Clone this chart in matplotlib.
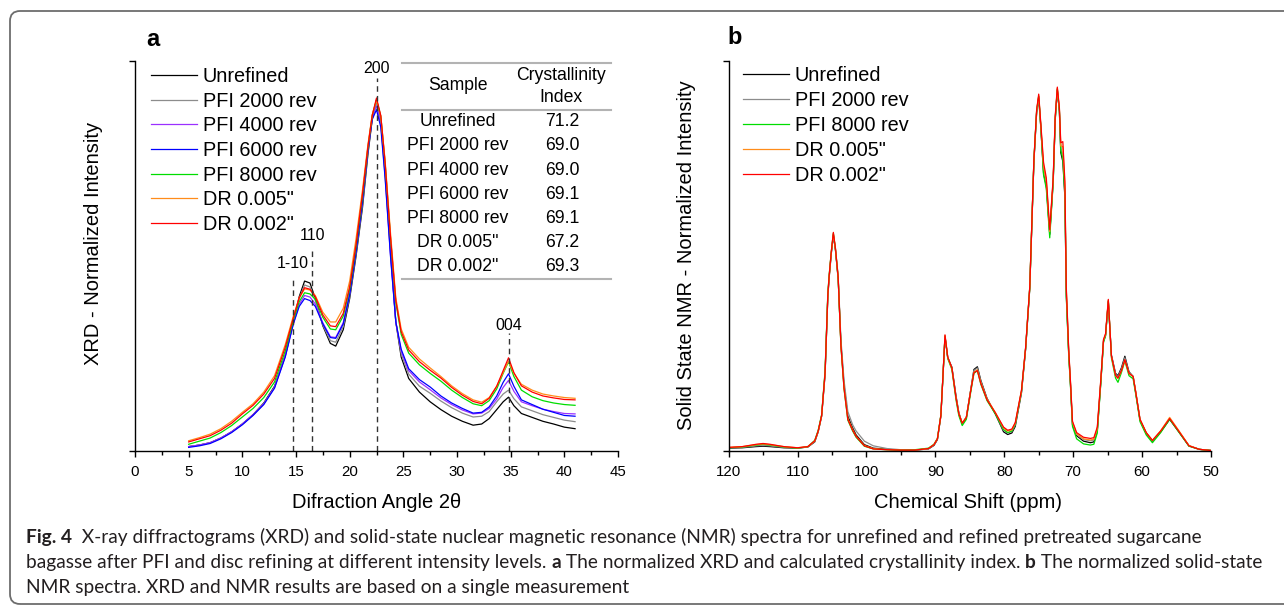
import matplotlib
matplotlib.use('Agg')
import matplotlib.pyplot as plt
from matplotlib.lines import Line2D
from matplotlib.patches import FancyBboxPatch
from matplotlib.transforms import IdentityTransform

plt.rcParams['font.family'] = ['Liberation Sans', 'DejaVu Sans']

# ---- panel a: XRD ----
theta = [5, 6, 7, 8, 9, 10, 11, 12, 13, 14, 14.75, 15.3, 15.8, 16.3, 16.8, 17.5, 18.2, 18.7, 19.4,
         20, 20.6, 21.2, 21.7, 22.1, 22.5, 22.9, 23.3, 23.8, 24.3, 24.8, 25.5, 26.5, 27.5, 28.5,
         29.5, 30.5, 31.5, 32.3, 33, 33.7, 34.3, 34.8, 35.3, 36, 37, 38, 39, 40, 41]

xrd_unrefined = [0.010, 0.014, 0.020, 0.032, 0.048, 0.068, 0.092, 0.122, 0.165, 0.245,
                 0.330, 0.395, 0.435, 0.430, 0.390, 0.320, 0.275, 0.268, 0.310,
                 0.390, 0.500, 0.625, 0.760, 0.850, 0.900, 0.850, 0.720, 0.520, 0.330, 0.240,
                 0.185, 0.150, 0.125, 0.105, 0.088, 0.075, 0.065, 0.068, 0.082, 0.105,
                 0.125, 0.137, 0.115, 0.095, 0.085, 0.075, 0.068, 0.060, 0.056]
xrd_pfi2000 = [0.010, 0.014, 0.020, 0.032, 0.048, 0.068, 0.091, 0.120, 0.163, 0.244,
               0.328, 0.390, 0.425, 0.420, 0.385, 0.322, 0.282, 0.278, 0.318,
               0.395, 0.505, 0.632, 0.765, 0.852, 0.895, 0.845, 0.712, 0.510, 0.330, 0.248,
               0.196, 0.165, 0.147, 0.127, 0.110, 0.096, 0.086, 0.088, 0.100, 0.125,
               0.145, 0.155, 0.133, 0.112, 0.102, 0.092, 0.085, 0.078, 0.074]
xrd_pfi4000 = [0.010, 0.014, 0.020, 0.032, 0.048, 0.068, 0.092, 0.120, 0.162, 0.242,
               0.325, 0.375, 0.398, 0.394, 0.376, 0.328, 0.292, 0.290, 0.328,
               0.405, 0.515, 0.645, 0.772, 0.855, 0.885, 0.838, 0.705, 0.505, 0.330, 0.255,
               0.205, 0.176, 0.156, 0.135, 0.118, 0.104, 0.094, 0.096, 0.108, 0.132,
               0.162, 0.180, 0.152, 0.125, 0.115, 0.106, 0.100, 0.095, 0.094]
xrd_pfi6000 = [0.008, 0.012, 0.018, 0.030, 0.046, 0.066, 0.090, 0.118, 0.160, 0.240,
               0.325, 0.370, 0.390, 0.385, 0.370, 0.325, 0.290, 0.288, 0.325,
               0.400, 0.510, 0.640, 0.770, 0.850, 0.875, 0.830, 0.700, 0.500, 0.330, 0.260,
               0.210, 0.182, 0.163, 0.140, 0.122, 0.108, 0.096, 0.098, 0.112, 0.140,
               0.175, 0.197, 0.165, 0.130, 0.118, 0.106, 0.098, 0.090, 0.088]
xrd_pfi8000 = [0.016, 0.024, 0.032, 0.046, 0.064, 0.086, 0.108, 0.136, 0.176, 0.256,
               0.335, 0.382, 0.405, 0.402, 0.388, 0.342, 0.312, 0.310, 0.345,
               0.415, 0.525, 0.655, 0.778, 0.860, 0.900, 0.858, 0.738, 0.548, 0.380, 0.298,
               0.250, 0.220, 0.198, 0.178, 0.155, 0.136, 0.120, 0.115, 0.128, 0.158,
               0.198, 0.228, 0.190, 0.155, 0.138, 0.128, 0.122, 0.118, 0.116]
xrd_dr005 = [0.025, 0.033, 0.042, 0.056, 0.075, 0.098, 0.120, 0.150, 0.192, 0.272,
             0.345, 0.392, 0.415, 0.412, 0.398, 0.355, 0.330, 0.330, 0.365,
             0.435, 0.545, 0.670, 0.785, 0.862, 0.900, 0.858, 0.745, 0.560, 0.392, 0.312,
             0.265, 0.235, 0.212, 0.190, 0.166, 0.146, 0.130, 0.124, 0.136, 0.165,
             0.200, 0.230, 0.198, 0.170, 0.155, 0.145, 0.140, 0.136, 0.134]
xrd_dr002 = [0.022, 0.030, 0.038, 0.052, 0.070, 0.094, 0.116, 0.145, 0.185, 0.265,
             0.340, 0.392, 0.418, 0.414, 0.395, 0.348, 0.320, 0.318, 0.352,
             0.420, 0.530, 0.660, 0.780, 0.860, 0.905, 0.860, 0.740, 0.550, 0.385, 0.305,
             0.258, 0.228, 0.206, 0.186, 0.162, 0.142, 0.126, 0.120, 0.134, 0.165,
             0.205, 0.238, 0.200, 0.166, 0.150, 0.140, 0.135, 0.131, 0.130]

xrd_labels = ['Unrefined', 'PFI 2000 rev', 'PFI 4000 rev', 'PFI 6000 rev',
              'PFI 8000 rev', 'DR 0.005"', 'DR 0.002"']
xrd_colors = ['#000000', '#8c8c8c', '#9b30ff', '#0000ff', '#00dd00', '#ff8c1a', '#ff0000']
xrd_series = [xrd_unrefined, xrd_pfi2000, xrd_pfi4000, xrd_pfi6000,
              xrd_pfi8000, xrd_dr005, xrd_dr002]

peak_pos = [14.7, 16.5, 22.5, 34.8]
peak_names = ['1-10', '110', '200', '004']
peak_line_top = [0.44, 0.52, 0.956, 0.302]
peak_text_y = [0.481, 0.553, 0.98, 0.322]

table_samples = ['Unrefined', 'PFI 2000 rev', 'PFI 4000 rev', 'PFI 6000 rev',
                 'PFI 8000 rev', 'DR 0.005"', 'DR 0.002"']
table_ci = ['71.2', '69.0', '69.0', '69.1', '69.1', '67.2', '69.3']

# ---- panel b: NMR ----
ppm = [120, 118, 116, 115, 114, 112, 110, 108.5, 107.5, 107,
       106.5, 106, 105.6, 105.4, 105.1, 104.8, 104.5, 104.1, 103.7, 103.25,
       102.7, 102, 101.5, 100.3, 99, 97, 95, 93, 91, 90.2,
       89.7, 89.2, 88.9, 88.6, 88.2, 87.6, 87.0, 86.6, 86.1, 85.5,
       84.9, 84.4, 83.9, 83.4, 82.5, 81.3, 80.1, 79.5, 78.9, 78.4,
       77.5, 76.9, 76.3, 75.7, 75.3, 75.0, 74.7, 74.3, 73.9, 73.4,
       72.9, 72.6, 72.3, 72.0, 71.8, 71.5, 71.2, 71.0, 70.65, 70.4,
       70.1, 69.5, 68.5, 67.5, 67.0, 66.5, 66.0, 65.6, 65.3, 64.9,
       64.45, 63.85, 63.5, 63.0, 62.5, 61.9, 61.3, 60.9, 60.3, 59.4,
       58.5, 57.3, 56.0, 54.7, 53.2, 51.7, 50]

nmr_unrefined = [0.006, 0.007, 0.010, 0.011, 0.010, 0.007, 0.006, 0.009, 0.022, 0.048,
                 0.088, 0.195, 0.395, 0.445, 0.505, 0.552, 0.515, 0.440, 0.275, 0.168,
                 0.088, 0.058, 0.040, 0.015, 0.006, 0.003, 0.001, 0.001, 0.004, 0.013,
                 0.028, 0.088, 0.188, 0.292, 0.238, 0.214, 0.140, 0.098, 0.068, 0.085,
                 0.152, 0.208, 0.215, 0.180, 0.134, 0.094, 0.048, 0.041, 0.045, 0.062,
                 0.148, 0.260, 0.415, 0.740, 0.868, 0.905, 0.830, 0.712, 0.680, 0.555,
                 0.690, 0.850, 0.925, 0.870, 0.765, 0.742, 0.650, 0.400, 0.250, 0.172,
                 0.066, 0.038, 0.024, 0.020, 0.022, 0.050, 0.172, 0.280, 0.296, 0.382,
                 0.245, 0.198, 0.192, 0.212, 0.242, 0.202, 0.190, 0.146, 0.078, 0.044,
                 0.024, 0.048, 0.080, 0.049, 0.012, 0.003, 0.000]
nmr_pfi2000 = [0.007, 0.008, 0.012, 0.013, 0.012, 0.008, 0.006, 0.009, 0.023, 0.049,
               0.089, 0.198, 0.398, 0.448, 0.508, 0.555, 0.518, 0.448, 0.285, 0.180,
               0.100, 0.066, 0.050, 0.024, 0.012, 0.005, 0.002, 0.001, 0.004, 0.014,
               0.029, 0.089, 0.189, 0.294, 0.239, 0.213, 0.138, 0.097, 0.069, 0.085,
               0.151, 0.205, 0.212, 0.178, 0.132, 0.095, 0.052, 0.045, 0.049, 0.066,
               0.150, 0.262, 0.418, 0.742, 0.870, 0.908, 0.834, 0.720, 0.688, 0.558,
               0.694, 0.854, 0.928, 0.874, 0.775, 0.760, 0.665, 0.408, 0.254, 0.175,
               0.070, 0.041, 0.028, 0.025, 0.027, 0.054, 0.175, 0.282, 0.297, 0.384,
               0.244, 0.196, 0.189, 0.209, 0.238, 0.200, 0.190, 0.147, 0.079, 0.045,
               0.025, 0.049, 0.081, 0.049, 0.012, 0.003, 0.000]
nmr_pfi8000 = [0.007, 0.009, 0.014, 0.016, 0.014, 0.009, 0.006, 0.010, 0.026, 0.052,
               0.092, 0.205, 0.405, 0.452, 0.510, 0.558, 0.518, 0.442, 0.268, 0.158,
               0.078, 0.050, 0.034, 0.011, 0.004, 0.002, 0.001, 0.002, 0.006, 0.016,
               0.031, 0.091, 0.190, 0.293, 0.236, 0.208, 0.130, 0.090, 0.064, 0.080,
               0.146, 0.198, 0.205, 0.170, 0.128, 0.094, 0.054, 0.046, 0.050, 0.068,
               0.152, 0.262, 0.418, 0.745, 0.872, 0.910, 0.832, 0.708, 0.672, 0.546,
               0.688, 0.852, 0.928, 0.872, 0.770, 0.750, 0.655, 0.395, 0.245, 0.168,
               0.062, 0.030, 0.017, 0.014, 0.016, 0.045, 0.170, 0.278, 0.294, 0.384,
               0.238, 0.186, 0.175, 0.200, 0.230, 0.192, 0.184, 0.142, 0.074, 0.040,
               0.020, 0.046, 0.080, 0.048, 0.011, 0.003, 0.000]
nmr_dr005 = [0.008, 0.010, 0.015, 0.017, 0.015, 0.010, 0.007, 0.010, 0.024, 0.049,
             0.089, 0.198, 0.398, 0.448, 0.508, 0.556, 0.518, 0.443, 0.270, 0.162,
             0.082, 0.054, 0.037, 0.013, 0.005, 0.002, 0.001, 0.001, 0.005, 0.015,
             0.030, 0.089, 0.189, 0.295, 0.239, 0.211, 0.136, 0.096, 0.071, 0.086,
             0.151, 0.201, 0.207, 0.174, 0.132, 0.098, 0.058, 0.050, 0.053, 0.070,
             0.153, 0.263, 0.418, 0.744, 0.872, 0.910, 0.836, 0.730, 0.692, 0.562,
             0.696, 0.856, 0.930, 0.876, 0.782, 0.780, 0.680, 0.414, 0.256, 0.178,
             0.073, 0.043, 0.030, 0.027, 0.029, 0.056, 0.177, 0.283, 0.298, 0.386,
             0.242, 0.192, 0.185, 0.204, 0.232, 0.198, 0.190, 0.148, 0.080, 0.046,
             0.026, 0.051, 0.085, 0.052, 0.013, 0.003, 0.000]
nmr_dr002 = [0.008, 0.010, 0.016, 0.018, 0.016, 0.010, 0.007, 0.010, 0.025, 0.050,
             0.090, 0.200, 0.400, 0.450, 0.510, 0.560, 0.520, 0.445, 0.270, 0.160,
             0.080, 0.052, 0.036, 0.012, 0.004, 0.002, 0.001, 0.001, 0.005, 0.015,
             0.030, 0.090, 0.190, 0.297, 0.240, 0.212, 0.135, 0.095, 0.070, 0.085,
             0.150, 0.200, 0.205, 0.172, 0.130, 0.097, 0.060, 0.052, 0.055, 0.072,
             0.155, 0.265, 0.420, 0.746, 0.875, 0.915, 0.840, 0.740, 0.700, 0.567,
             0.700, 0.860, 0.933, 0.880, 0.790, 0.793, 0.690, 0.420, 0.260, 0.180,
             0.075, 0.046, 0.034, 0.031, 0.033, 0.060, 0.180, 0.285, 0.300, 0.388,
             0.243, 0.193, 0.186, 0.205, 0.233, 0.198, 0.190, 0.148, 0.080, 0.046,
             0.026, 0.050, 0.082, 0.050, 0.012, 0.003, 0.000]

nmr_labels = ['Unrefined', 'PFI 2000 rev', 'PFI 8000 rev', 'DR 0.005"', 'DR 0.002"']
nmr_colors = ['#000000', '#8c8c8c', '#00dd00', '#ff8c1a', '#ff0000']
nmr_series = [nmr_unrefined, nmr_pfi2000, nmr_pfi8000, nmr_dr005, nmr_dr002]

caption_lines = [
    [('Fig. 4', 'bold'), ('  X-ray diffractograms (XRD) and solid-state nuclear magnetic resonance '
                          '(NMR) spectra for unrefined and refined pretreated sugarcane', 'normal')],
    [('bagasse after PFI and disc refining at different intensity levels. ', 'normal'), ('a', 'bold'),
     (' The normalized XRD and calculated crystallinity index. ', 'normal'), ('b', 'bold'),
     (' The normalized solid-state', 'normal')],
    [('NMR spectra. XRD and NMR results are based on a single measurement', 'normal')],
]

W, H = 1284, 605


def fx(px):
    return px / W


def fy(py):
    return 1 - py / H


def style_axes(ax):
    for s in ['top', 'right']:
        ax.spines[s].set_visible(False)
    for s in ['left', 'bottom']:
        ax.spines[s].set_linewidth(1.0)
    ax.set_ylim(0, 1)
    ax.set_yticks([0, 1])
    ax.set_yticklabels([])
    ax.tick_params(axis='y', direction='out', length=4.5, width=1.0)
    ax.tick_params(axis='x', which='major', direction='out', length=4.5, width=1.0,
                   labelsize=10.8, pad=6)
    ax.tick_params(axis='x', which='minor', direction='out', length=2.6, width=1.0)


fig = plt.figure(figsize=(W / 100, H / 100), dpi=100)

# panel a
ax_a = fig.add_axes([fx(135), fy(450.5), (618 - 135) / W, (450.5 - 61) / H])
for ys, c, lab in zip(xrd_series, xrd_colors, xrd_labels):
    ax_a.plot(theta, ys, color=c, lw=0.9, label=lab)
for xp, top, name, ty in zip(peak_pos, peak_line_top, peak_names, peak_text_y):
    ax_a.plot([xp, xp], [0, top], color='#333333', lw=1.0, ls=(0, (4, 3)))
    ax_a.text(xp, ty, name, ha='center', va='center', fontsize=11.5)
ax_a.set_xlim(0, 45)
ax_a.set_xticks(range(0, 46, 5))
ax_a.set_xticks([x + 2.5 for x in range(0, 45, 5)], minor=True)
style_axes(ax_a)
ax_a.legend(loc='upper left', bbox_to_anchor=(fx(151), fy(67)), bbox_transform=fig.transFigure,
            frameon=False, fontsize=14.3, handlelength=2.3, handletextpad=0.3,
            labelspacing=0.285, borderpad=0, borderaxespad=0)

# panel b
ax_b = fig.add_axes([fx(728.6), fy(450.5), (1211 - 728.6) / W, (450.5 - 61) / H])
for ys, c, lab in zip(nmr_series, nmr_colors, nmr_labels):
    ax_b.plot(ppm, ys, color=c, lw=0.9, label=lab)
ax_b.set_xlim(120, 50)
ax_b.set_xticks(range(120, 49, -10))
ax_b.set_xticks(range(115, 50, -10), minor=True)
style_axes(ax_b)
ax_b.legend(loc='upper left', bbox_to_anchor=(fx(743), fy(66)), bbox_transform=fig.transFigure,
            frameon=False, fontsize=14.3, handlelength=2.3, handletextpad=0.3,
            labelspacing=0.3, borderpad=0, borderaxespad=0)

# axis titles and panel letters
fig.text(fx(94), fy(243), 'XRD - Normalized Intensity', rotation=90, ha='center', va='center', fontsize=14.5)
fig.text(fx(376.5), fy(503), 'Difraction Angle 2\u03b8', ha='center', va='center', fontsize=14.5)
fig.text(fx(686), fy(255), 'Solid State NMR - Normalized Intensity', rotation=90, ha='center', va='center', fontsize=14.5)
fig.text(fx(967.5), fy(503), 'Chemical Shift (ppm)', ha='center', va='center', fontsize=14.5)
fig.text(fx(153), fy(39), 'a', ha='center', va='center', fontsize=17, fontweight='bold')
fig.text(fx(735), fy(37), 'b', ha='center', va='center', fontsize=17, fontweight='bold')

# crystallinity table
for yl in [62.7, 110.3, 279.3]:
    fig.add_artist(Line2D([fx(402), fx(611)], [fy(yl), fy(yl)], color='#b3b3b3', lw=1.5))
fig.text(fx(458), fy(86), 'Sample', ha='center', va='center', fontsize=12.7)
fig.text(fx(561), fy(76), 'Crystallinity', ha='center', va='center', fontsize=12.7)
fig.text(fx(561), fy(97), 'Index', ha='center', va='center', fontsize=12.7)
for i, (s, v) in enumerate(zip(table_samples, table_ci)):
    yy = 121.7 + i * 24.2
    fig.text(fx(458), fy(yy), s, ha='center', va='center', fontsize=12.7)
    fig.text(fx(562), fy(yy), v, ha='center', va='center', fontsize=12.7)

# caption, sized so the three lines span about as wide as in the source
cap_font = ['Lato', 'DejaVu Sans']
cap_color = '#231f20'
renderer = fig.canvas.get_renderer()
probe_w = 0.0
for line in caption_lines:
    for txt, wt in line:
        p = fig.text(0, 0, txt, fontsize=10, fontweight=wt, family=cap_font)
        probe_w += p.get_window_extent(renderer).width
        p.remove()
cap_size = 10 * (1186 + 1236 + 601) / probe_w
for line, base in zip(caption_lines, [543, 568, 593]):
    x = 26
    for txt, wt in line:
        t = fig.text(fx(x), fy(base), txt, fontsize=cap_size, fontweight=wt, family=cap_font,
                     color=cap_color, va='baseline', ha='left')
        x += t.get_window_extent(renderer).width

# rounded frame
fig.add_artist(FancyBboxPatch((10, 1), 1290, 593, boxstyle='round,pad=0,rounding_size=10',
                              transform=IdentityTransform(), fill=False, ec='#6d6d6d', lw=1.3))

fig.savefig('out.png', dpi=100)
